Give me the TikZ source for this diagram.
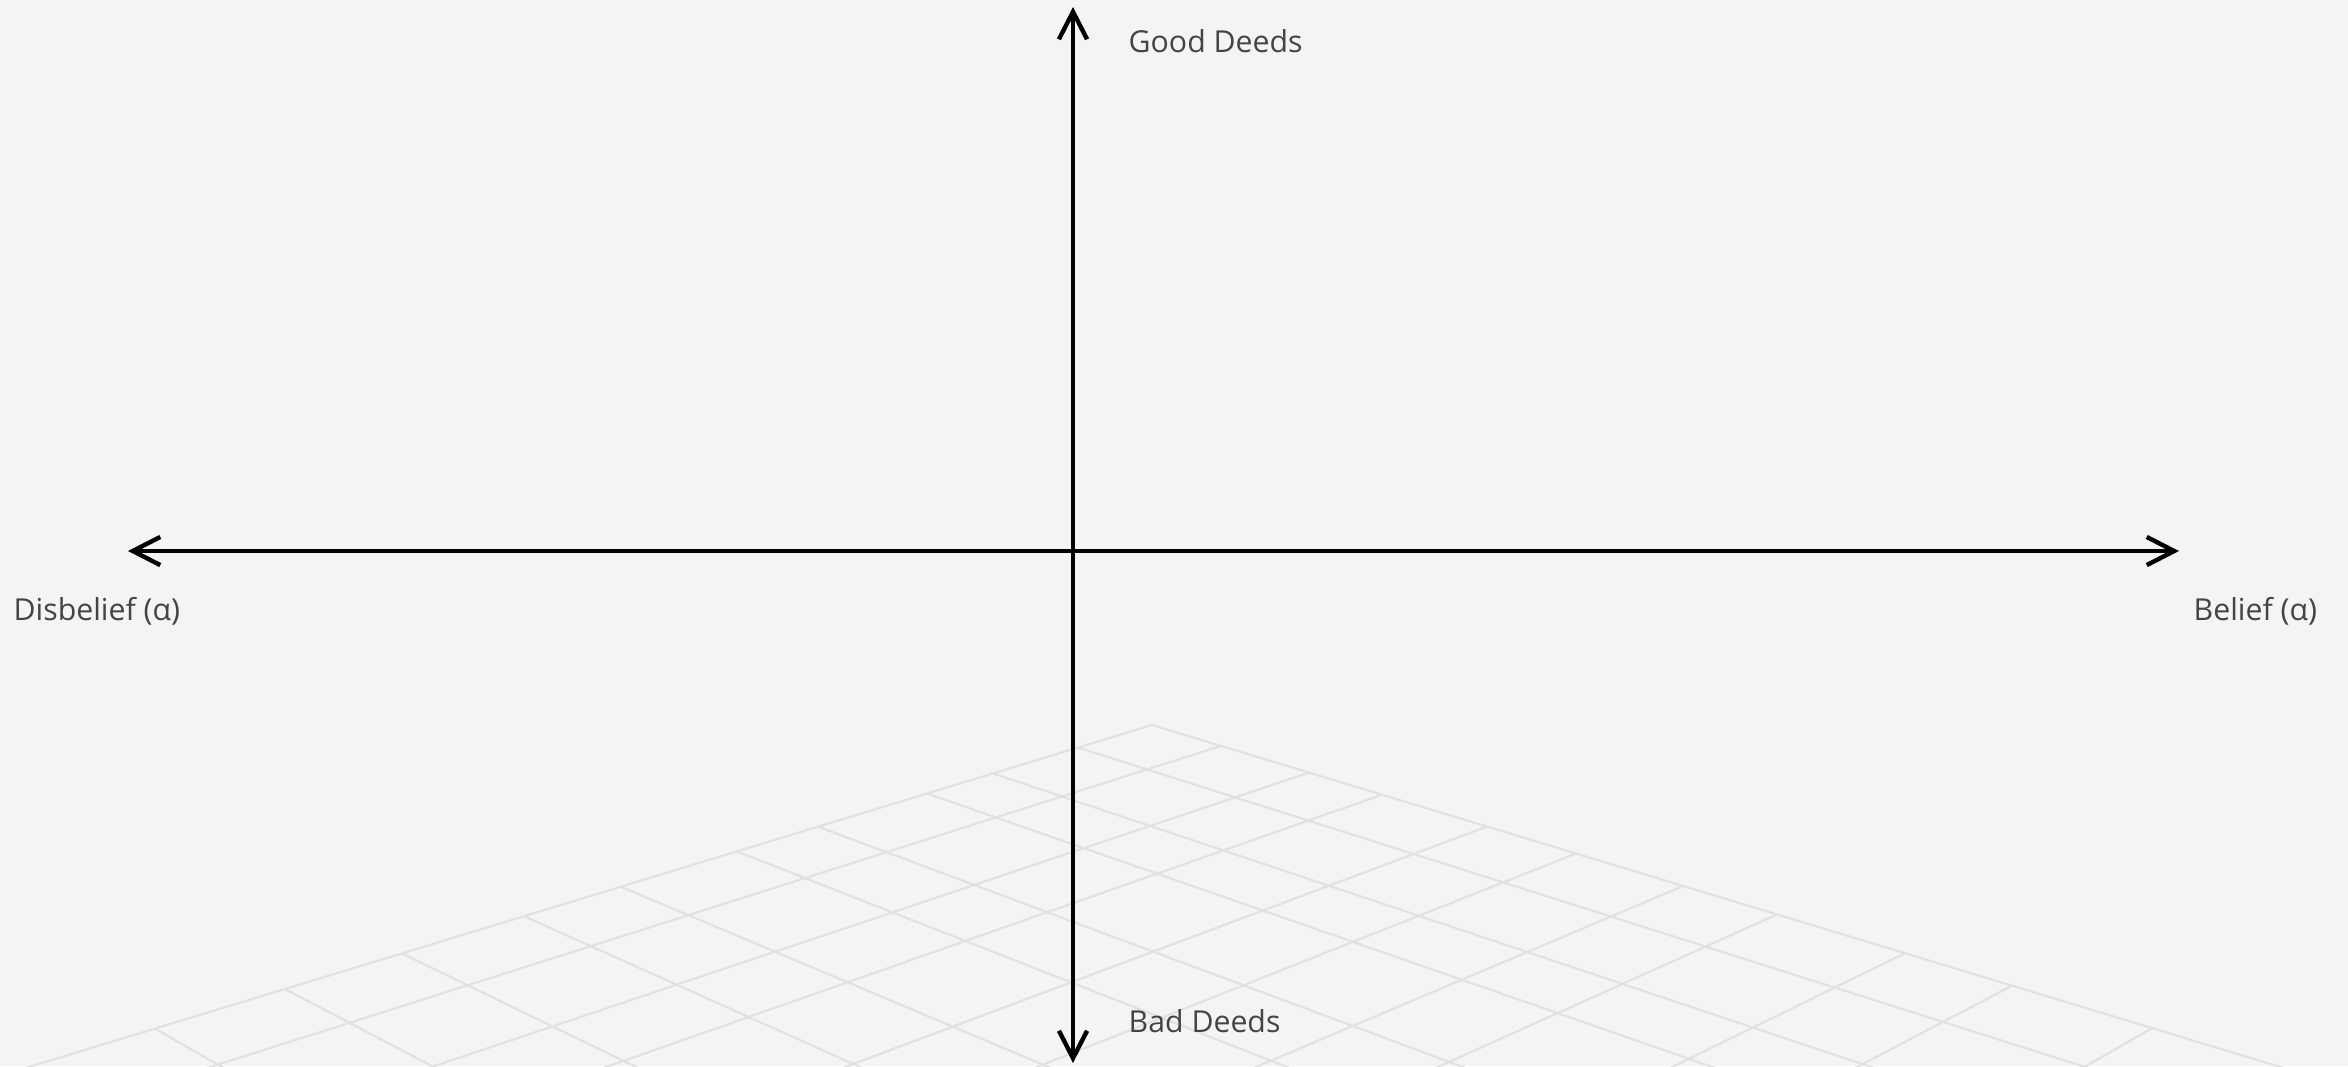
\documentclass[tikz,border=0pt]{standalone}
\usepackage{fontspec}
\setmainfont{Open Sans}
\usetikzlibrary{arrows.meta, calc}
\definecolor{pagebg}{HTML}{F4F4F4}
\definecolor{floorgray}{HTML}{E1E1E1}
\definecolor{labelgray}{HTML}{444444}

\begin{document}
\begin{tikzpicture}[
    x=0.01cm, y=-0.01cm,
    axis/.style={line width=1.25pt,
                 {Straight Barb[length=7.8pt,width=8pt]}-{Straight Barb[length=7.8pt,width=8pt]}},
    floor/.style={floorgray, line width=0.6pt},
    lbl/.style={text=labelgray, font=\fontsize{8.6}{10}\selectfont, inner sep=0pt, anchor=base west}
]
  % page
  \fill[pagebg] (0,0) rectangle (2348,1066);
  \useasboundingbox (0,0) rectangle (2348,1066);

  % floor in perspective
  \coordinate (apex) at (1152,725);
  \coordinate (vpw) at (-2098,-260);
  \coordinate (vpe) at (4387,-260);
  \begin{scope}
    \clip (0,0) rectangle (2348,1066);
    \draw[floor] (apex) -- ($(vpe)!2!(apex)$);
    \draw[floor] (apex) -- ($(vpw)!2!(apex)$);
    % lines from the left edge
    \foreach \x/\y in {1078/747.5, 993/773.4, 927/793.5, 818/826.7, 737/851.4,
                       621/886.7, 524/916.2, 402/953.4, 285/989, 155/1028.6}
      \draw[floor] (\x,\y) -- ($(vpw)!2!(\x,\y)$);
    % lines from the right edge
    \foreach \x/\y in {1221/745.9, 1309/772.6, 1382/794.7, 1487/826.5, 1576/853.5,
                       1683/886, 1777/914.4, 1905/953.2, 2012/985.7, 2152/1028.1}
      \draw[floor] (\x,\y) -- ($(vpe)!2!(\x,\y)$);
  \end{scope}

  % axes
  \coordinate (north) at (1073,7);
  \coordinate (south) at (1073,1063);
  \coordinate (west) at (128,551);
  \coordinate (east) at (2179,551);
  \draw[axis] (west) -- (east);
  \draw[axis] (south) -- (north);

  % labels
  \node[lbl] (good) at (1128,52) {Good Deeds};
  \node[lbl] (bad) at (1128,1032) {Bad Deeds};
  \node[lbl] (disbelief) at (13,620) {Disbelief (α)};
  \node[lbl] (belief) at (2193,620) {Belief (α)};
\end{tikzpicture}
\end{document}
